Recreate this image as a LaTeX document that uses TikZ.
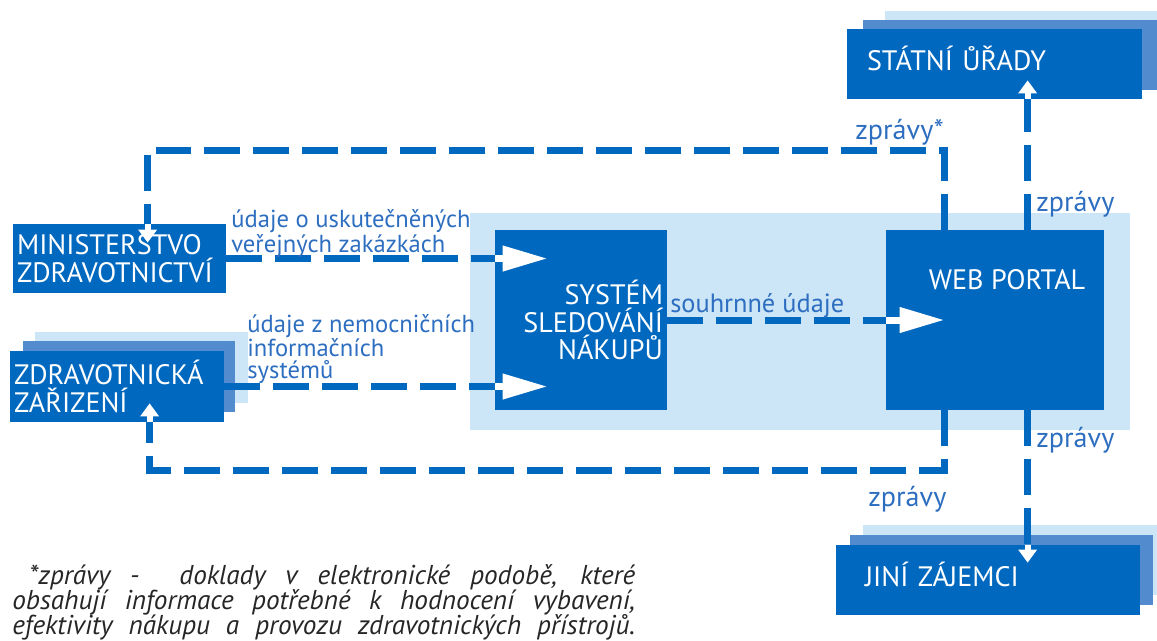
\documentclass[tikz,border=0pt]{standalone}
\usepackage{fontspec}
\setmainfont{PT Sans}
\usetikzlibrary{arrows.meta}

\definecolor{tmava}{RGB}{0,104,191}
\definecolor{stredni}{RGB}{82,140,207}
\definecolor{svetla}{RGB}{204,229,247}
\definecolor{popis}{RGB}{45,110,192}

\newcommand{\tesne}{\lineskiplimit=-20pt\relax}

\tikzset{
  blok/.style={fill=tmava, text=white, inner sep=0.08cm, font=\fontsize{16}{15.8}\selectfont},
  vrstva/.style={fill=stredni, inner sep=0pt},
  zadni/.style={fill=svetla, inner sep=0pt},
  popisek/.style={text=popis, inner sep=0pt, align=left, font=\fontsize{14}{12.5}\selectfont},
  zpravy/.style={popisek, font=\fontsize{16}{16}\selectfont},
  tok/.style={draw=tmava, line width=0.14cm, dash pattern=on 0.72cm off 0.26cm},
  hrot/.style={draw=white, line width=0.14cm, -{Triangle[length=0.9cm,width=0.48cm]}},
  sipka/.style={draw=white, line width=0.12cm, -{Triangle[length=0.26cm,width=0.36cm]}},
}

\begin{document}
\begin{tikzpicture}[x=0.02cm, y=-0.02cm]
  \useasboundingbox (0,0) rectangle (1157,640);

  % podklad systemu
  \node[zadni, minimum width=13.2cm, minimum height=4.34cm] (ramec) at (800,321.5) {};

  % bloky
  \node[blok, minimum width=3.44cm, minimum height=3.6cm, text width=3.28cm, align=right] (sledovani) at (581,320) {SYSTÉM\\SLEDOVÁNÍ\\NÁKUPŮ};
  \node[blok, minimum width=4.36cm, minimum height=3.6cm,
        label={[text=white, font=\fontsize{16}{16}\selectfont, xshift=0.24cm, yshift=0.8cm]center:WEB PORTAL}] (portal) at (995,320) {};
  \node[blok, minimum width=4.26cm, minimum height=1.38cm, text width=4.1cm, align=left] (msz) at (119.5,258.5) {MINISTERSTVO\\ZDRAVOTNICTVÍ};

  \node[zadni, minimum width=4.26cm, minimum height=1.42cm] (zzC) at (141.5,367.5) {};
  \node[vrstva, minimum width=4.24cm, minimum height=1.42cm] (zzB) at (129,376.5) {};
  \node[blok, minimum width=4.28cm, minimum height=1.42cm, text width=4.12cm, align=left] (zz) at (117,386.5) {ZDRAVOTNICKÁ\\ZAŘIZENÍ};

  \node[zadni, minimum width=5.44cm, minimum height=1.4cm] (uradyC) at (1021,46) {};
  \node[vrstva, minimum width=5.88cm, minimum height=1.4cm] (uradyB) at (1010,55) {};
  \node[blok, minimum width=5.9cm, minimum height=1.4cm, inner xsep=0.4cm, text width=5.1cm, align=left,
        text height=0.85em, text depth=0.075em] (urady) at (994.5,64) {STÁTNÍ ŮŘADY};

  \node[zadni, minimum width=5.88cm, minimum height=1.4cm] (zajemciC) at (1010,560) {};
  \node[vrstva, minimum width=6.06cm, minimum height=1.4cm] (zajemciB) at (1001.5,570) {};
  \node[blok, minimum width=6.08cm, minimum height=1.4cm, inner xsep=0.58cm, text width=4.92cm, align=left,
        text height=0.85em, text depth=0.075em] (zajemci) at (988,580) {JINÍ ZÁJEMCI};

  % udaje do systemu
  \draw[tok] (msz.east) -- (msz.east -| sledovani.west);
  \draw[hrot] (msz.east -| sledovani.west) -- ++(53,0);
  \draw[tok] (zz.east) -- (zz.east -| sledovani.west);
  \draw[hrot] (zz.east -| sledovani.west) -- ++(53,0);
  \draw[tok] (sledovani.east) -- (portal.west);
  \draw[hrot] (portal.west) -- ++(59,0);

  % zpravy
  \coordinate (horni) at (0,150);
  \coordinate (dolni) at (0,470);
  \coordinate (pA) at ([xshift=1.18cm]portal.north west);
  \coordinate (mA) at ([xshift=2.7cm]msz.north west);
  \draw[tok] (pA) -- (pA |- horni) -- (mA |- horni) -- (mA);
  \draw[sipka] (mA) -- ++(0,19);

  \coordinate (pD) at ([xshift=1.18cm]portal.south west);
  \coordinate (zA) at ([xshift=2.8cm]zz.south west);
  \draw[tok] (pD) -- (pD |- dolni) -- (zA |- dolni) -- (zA);
  \draw[sipka] (zA) -- ++(0,-19);

  \coordinate (pB) at ([xshift=2.84cm]portal.north west);
  \draw[tok] (pB) -- (pB |- urady.south);
  \draw[sipka] (pB |- urady.south) -- ++(0,-19);
  \coordinate (pC) at ([xshift=2.84cm]portal.south west);
  \draw[tok] (pC) -- (pC |- zajemci.north);
  \draw[sipka] (pC |- zajemci.north) -- ++(0,18);

  % popisky
  \node[popisek, anchor=west] (l1) at (231,234) {údaje o uskutečněných\\veřejných zakázkách};
  \node[popisek, anchor=west] (l2) at (247,349) {údaje z nemocničních\\informačních\\systémů};
  \node[popisek, anchor=west, font=\fontsize{15}{15}\selectfont] (l3) at (670,306) {souhrnné údaje};
  \node[zpravy, anchor=west] (l4) at (855,132) {zprávy*};
  \node[zpravy, anchor=west] (l5) at (1036,204) {zprávy};
  \node[zpravy, anchor=west] (l6) at (1036,440) {zprávy};
  \node[zpravy, anchor=west] (l7) at (868,499) {zprávy};

  % poznamka
  \node[anchor=north west, inner sep=0pt, align=left, text=black!85,
        font=\itshape\fontsize{15.5}{14.2}\selectfont\tesne] (pozn) at (12,564)
    {\makebox[12.46cm][s]{\hspace*{0.34cm}*zprávy -\ \ doklady v elektronické podobě, které}\\
     \makebox[12.46cm][s]{obsahují informace potřebné k hodnocení vybavení,}\\
     \makebox[12.46cm][s]{efektivity nákupu a provozu zdravotnických přístrojů.}};
\end{tikzpicture}
\end{document}
